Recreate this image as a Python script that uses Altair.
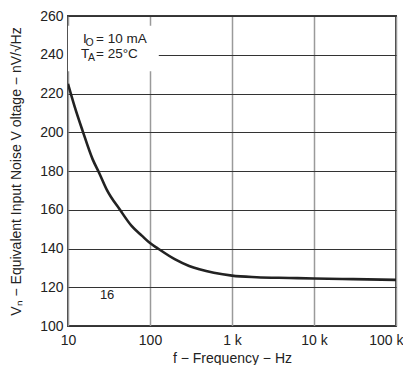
import altair as alt
import pandas as pd

freq = [10, 12, 15, 20, 24, 30, 43, 60, 80, 100, 125, 200, 300, 400, 600, 1000, 2000, 5000, 10000, 30000, 100000]
noise = [225, 213.5, 201, 186, 179, 170, 160, 151.5, 146.5, 142.8, 140, 134.5, 131, 129.3, 127.5, 126, 125.2, 124.8, 124.5, 124.2, 123.8]

x_ticks = [10, 100, 1000, 10000, 100000]
y_ticks = [100, 120, 140, 160, 180, 200, 220, 240, 260]

df = pd.DataFrame({"f": freq, "v": noise})

FONT = "Liberation Sans"

xscale = alt.Scale(type="log", domain=[10, 100000], nice=False)
yscale = alt.Scale(domain=[100, 260], nice=False, zero=False)

PH = 310

xaxis = alt.Axis(
    values=x_ticks,
    labelExpr="datum.value >= 1000 ? (datum.value / 1000) + ' k' : datum.value",
    title="f − Frequency − Hz",
    grid=True, gridColor="#9a9a9a", gridWidth=1.5,
    ticks=False, domain=False, tickCount=5,
    labelFont=FONT, labelFontSize=14, labelColor="#222", labelPadding=7,
    labelAlign=alt.ExprRef(expr="datum.value >= 100000 ? 'right' : 'center'"),
    labelOffset=alt.ExprRef(expr="datum.value >= 100000 ? 7 : 0"),
    titleFont=FONT, titleFontSize=14, titleFontWeight="normal", titleColor="#222", titlePadding=4,
    labelFlush=False, labelOverlap=False,
)
yaxis = alt.Axis(
    values=y_ticks,
    title="Vₙ − Equivalent Input Noise V oltage − nV/√Hz",
    grid=True, gridColor="#333333", gridWidth=1,
    ticks=False, domain=False, tickCount=9,
    labelFont=FONT, labelFontSize=14, labelColor="#222", labelPadding=5,
    titleFont=FONT, titleFontSize=14, titleFontWeight="normal", titleColor="#222",
    titleX=-52, titleY=PH / 2, titleAlign="center", titleBaseline="middle", titleAngle=270,
    labelFlush=False, labelOverlap=False,
)

base = alt.Chart(df)

line = base.mark_line(color="#222222", strokeWidth=2.6, interpolate="monotone", clip=True).encode(
    x=alt.X("f:Q", scale=xscale, axis=xaxis),
    y=alt.Y("v:Q", scale=yscale, axis=yaxis),
)

box_df = pd.DataFrame({"f1": [10], "f2": [128], "v1": [255], "v2": [231.5]})
box = alt.Chart(box_df).mark_rect(color="white").encode(
    x=alt.X("f1:Q", scale=xscale, axis=xaxis), x2="f2:Q",
    y=alt.Y("v1:Q", scale=yscale, axis=yaxis), y2="v2:Q",
)

def txt(t, x, y, size=13.5):
    return alt.Chart(pd.DataFrame({"t": [t]})).mark_text(
        font=FONT, fontSize=size, color="#222", align="left", baseline="alphabetic"
    ).encode(text="t:N", x=alt.value(x), y=alt.value(y))

annots = [
    txt("I", 15, 27), txt("O", 17.5, 29.5, 10.5), txt("= 10 mA", 28, 27),
    txt("T", 13, 42), txt("A", 20, 44.5, 10.5), txt("= 25°C", 28, 42),
]
lbl16 = alt.Chart(pd.DataFrame({"f": [30], "v": [116], "t": ["16"]})).mark_text(
    font=FONT, fontSize=13, color="#222", baseline="middle"
).encode(x=alt.X("f:Q", scale=xscale, axis=xaxis), y=alt.Y("v:Q", scale=yscale, axis=yaxis), text="t:N")

chart = alt.layer(box, line, *annots, lbl16).properties(
    width=328, height=PH,
    autosize=alt.AutoSizeParams(type="none"),
    padding={"left": 60, "top": 8, "right": 7, "bottom": 39},
    background="white",
).configure_view(stroke="#3a3a3a", strokeWidth=2)

chart.save("out.html", embed_options={"renderer": "svg", "actions": False})
